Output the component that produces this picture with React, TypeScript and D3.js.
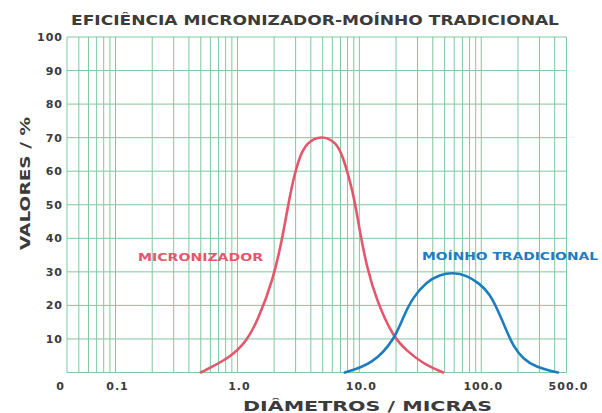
import React, { useEffect, useRef } from "react";
import * as d3 from "d3";

// diameter (micras) -> valor (%)
const micronDiam = [0.5, 0.87, 1.19, 1.47, 1.96, 2.37, 2.69, 3.15, 3.69, 4.9, 6.5, 7.36, 8.09, 8.79, 9.48, 10.1, 11.5, 13.8, 18.9, 24.3, 33.3, 48.6];
const micronVal = [0, 4.4, 9.3, 15.6, 27.5, 41, 53, 63.5, 68.6, 70.8, 68.6, 64, 59, 54, 48, 42, 31.5, 21.6, 10.6, 6.6, 2.6, 0];
const moinhoDiam = [7.6, 13, 19.5, 22.8, 27.6, 35.5, 45.6, 58.6, 75.5, 97, 117, 137, 161, 182, 220, 283, 387, 426];
const moinhoVal = [0, 2.6, 10, 16.5, 22.5, 27, 29.2, 29.8, 29, 26.5, 23.5, 18.5, 12.5, 8, 4, 1.6, 0.3, 0];

const xTicks = [0.1, 1, 10, 100, 500];
const xTickLabels = ["0.1", "1.0", "10.0", "100.0", "500.0"];
const yTicks = [10, 20, 30, 40, 50, 60, 70, 80, 90, 100];

const FONT = "'DejaVu Sans', Arial, sans-serif";
const GRID = "#80c89e";
const RED = "#e4566b";
const BLUE = "#1b7dbf";
const INK = "#3b3b3b";

const App = () => {
  const svgRef = useRef(null);

  useEffect(() => {
    const svg = d3.select(svgRef.current);
    svg.selectAll("*").remove();

    const x = d3.scaleLog().domain([0.04, 500]).range([67, 566.5]);
    const y = d3.scaleLinear().domain([0, 100]).range([372.5, 37]);

    // log grid: every 1..9 step in each decade
    const vLines = [];
    [0.01, 0.1, 1, 10, 100].forEach((dec) => {
      for (let k = 1; k <= 9; k++) {
        const v = +(dec * k).toPrecision(3);
        if (v >= 0.04 && v <= 500) vLines.push(v);
      }
    });

    const grid = svg.append("g");
    grid
      .selectAll(".v")
      .data(vLines)
      .enter()
      .append("line")
      .attr("x1", (d) => x(d))
      .attr("x2", (d) => x(d))
      .attr("y1", y(0))
      .attr("y2", y(100))
      .attr("stroke", GRID)
      .attr("stroke-width", 1);

    grid
      .selectAll(".h")
      .data([0, ...yTicks])
      .enter()
      .append("line")
      .attr("x1", x(0.04))
      .attr("x2", x(500))
      .attr("y1", (d) => y(d))
      .attr("y2", (d) => y(d))
      .attr("stroke", GRID)
      .attr("stroke-width", 1);

    // y labels
    svg
      .append("g")
      .selectAll("text")
      .data(yTicks)
      .enter()
      .append("text")
      .attr("x", 63)
      .attr("y", (d) => y(d) + 4)
      .attr("text-anchor", "end")
      .style("font-family", FONT)
      .style("font-weight", "bold")
      .style("font-size", "11px")
      .style("letter-spacing", "1px")
      .attr("fill", INK)
      .text((d) => d);

    // x labels
    svg
      .append("g")
      .selectAll("text")
      .data(xTicks)
      .enter()
      .append("text")
      .attr("x", (d) => x(d) + 2)
      .attr("y", 390)
      .attr("text-anchor", "middle")
      .style("font-family", FONT)
      .style("font-weight", "bold")
      .style("font-size", "11px")
      .style("letter-spacing", "1px")
      .attr("fill", INK)
      .text((d, i) => xTickLabels[i]);

    svg
      .append("text")
      .attr("x", 60)
      .attr("y", 390)
      .attr("text-anchor", "middle")
      .style("font-family", FONT)
      .style("font-weight", "bold")
      .style("font-size", "11px")
      .attr("fill", INK)
      .text("0");

    // curves, smoothed like the hand-drawn original
    const line = d3
      .line()
      .x((d) => x(d[0]))
      .y((d) => y(d[1]))
      .curve(d3.curveBasis);

    svg
      .append("path")
      .datum(micronDiam.map((d, i) => [d, micronVal[i]]))
      .attr("d", line)
      .attr("fill", "none")
      .attr("stroke", RED)
      .attr("stroke-width", 2.6)
      .attr("stroke-linecap", "round");

    svg
      .append("path")
      .datum(moinhoDiam.map((d, i) => [d, moinhoVal[i]]))
      .attr("d", line)
      .attr("fill", "none")
      .attr("stroke", BLUE)
      .attr("stroke-width", 2.6)
      .attr("stroke-linecap", "round");

    // series labels
    svg
      .append("text")
      .attr("x", 138)
      .attr("y", 261)
      .attr("textLength", 125)
      .attr("lengthAdjust", "spacingAndGlyphs")
      .style("font-family", FONT)
      .style("font-weight", "bold")
      .style("font-size", "11px")
      .attr("fill", RED)
      .text("MICRONIZADOR");

    svg
      .append("text")
      .attr("x", 422)
      .attr("y", 260)
      .attr("textLength", 176)
      .attr("lengthAdjust", "spacingAndGlyphs")
      .style("font-family", FONT)
      .style("font-weight", "bold")
      .style("font-size", "11px")
      .attr("fill", BLUE)
      .text("MOÍNHO TRADICIONAL");

    // titles
    svg
      .append("text")
      .attr("x", 71)
      .attr("y", 25)
      .attr("textLength", 488)
      .attr("lengthAdjust", "spacingAndGlyphs")
      .style("font-family", FONT)
      .style("font-weight", "bold")
      .style("font-size", "14px")
      .attr("fill", INK)
      .text("EFICIÊNCIA MICRONIZADOR-MOÍNHO TRADICIONAL");

    svg
      .append("text")
      .attr("x", 243)
      .attr("y", 410.5)
      .attr("textLength", 249)
      .attr("lengthAdjust", "spacingAndGlyphs")
      .style("font-family", FONT)
      .style("font-weight", "bold")
      .style("font-size", "14px")
      .attr("fill", INK)
      .text("DIÂMETROS / MICRAS");

    svg
      .append("text")
      .attr("transform", "translate(30,250) rotate(-90)")
      .attr("textLength", 133)
      .attr("lengthAdjust", "spacingAndGlyphs")
      .style("font-family", FONT)
      .style("font-weight", "bold")
      .style("font-size", "14px")
      .attr("fill", INK)
      .text("VALORES / %");
  }, []);

  return (
    <svg
      ref={svgRef}
      width={602}
      height={413}
      style={{ position: "absolute", left: 0, top: 0, background: "#fff" }}
    />
  );
};

export default App;
